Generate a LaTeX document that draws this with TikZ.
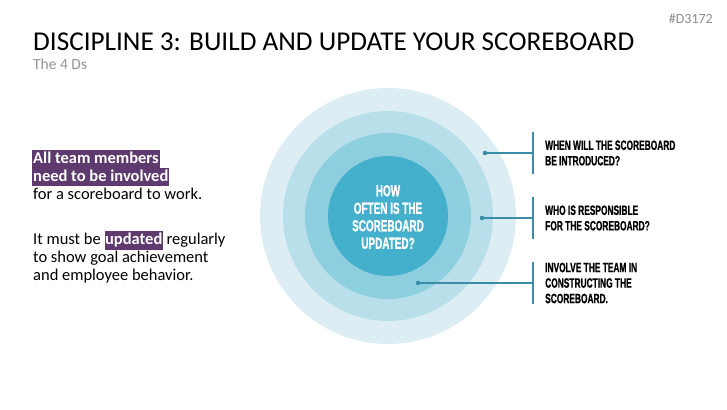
\documentclass[tikz,border=0pt]{standalone}
\usepackage{fontspec}
\setmainfont{Carlito}
\newfontfamily\headfont[FakeStretch=0.62,FakeBold=0.8]{Liberation Sans}
\usepackage{xcolor}
\usepackage{tikz}

\definecolor{ringA}{HTML}{DCEEF4}
\definecolor{ringB}{HTML}{B9E0EA}
\definecolor{ringC}{HTML}{8DCFDF}
\definecolor{ringD}{HTML}{45B0CB}
\definecolor{leadline}{HTML}{3B8DA7}
\definecolor{hlpurple}{HTML}{5E3A6E}
\newcommand{\hlword}[1]{{\setlength{\fboxsep}{0.5pt}\colorbox{hlpurple}{\color{white}\bfseries\strut #1}}}

\begin{document}
\begin{tikzpicture}[x=1pt,y=-1pt,
  body/.style={inner sep=0pt,anchor=base west,font=\fontsize{16.5}{18}\selectfont},
  hl/.style={fill=hlpurple,text=white,inner xsep=1pt,inner ysep=0pt,anchor=base west,font=\fontsize{16.5}{18}\selectfont\bfseries},
  tag/.style={inner sep=0pt,anchor=west,align=left,font=\headfont\bfseries\fontsize{13.5}{15.5}\selectfont},
  lead/.style={leadline,line width=1.3pt}]
\useasboundingbox (0,0) rectangle (727,409);

\node[inner sep=0pt,anchor=base west,font=\fontsize{27.2}{30}\selectfont] (title) at (33,51) {DISCIPLINE 3: BUILD AND UPDATE YOUR SCOREBOARD};
\node[inner sep=0pt,anchor=base west,text=black!42,font=\fontsize{15.5}{17}\selectfont] (sub) at (33,70) {The 4 Ds};
\node[inner sep=0pt,anchor=base east,text=black!45,font=\fontsize{14}{16}\selectfont] (code) at (713,24) {\#D3172};

% left text
\node[hl] (teamA) at (32,163) {\strut All team members\ };
\node[hl] (teamB) at (32,181) {\strut need to be involved};
\node[body] (work) at (33,199) {for a scoreboard to work.};
\node[body] (must) at (33,244) {It must be \hlword{updated} regularly};
\node[body] (goal) at (33,262) {to show goal achievement};
\node[body] (behav) at (33,280) {and employee behavior.};

% rings
\coordinate (hub) at (388,216);
\fill[ringA] (hub) circle (128pt);
\fill[ringB] (hub) circle (105pt);
\fill[ringC] (hub) circle (83pt);
\fill[ringD] (hub) circle (60pt);
\node[align=center,text=white,font=\headfont\bfseries\fontsize{16}{17.5}\selectfont] (ask) at (388,217) {HOW\\OFTEN IS THE\\SCOREBOARD\\UPDATED?};

% leaders
\coordinate (dotA) at (485,153);
\coordinate (dotB) at (482,218);
\coordinate (dotC) at (418,283);
\coordinate (barA) at (533,153);
\coordinate (barB) at (533,218);
\coordinate (barC) at (533,283);
\foreach \d/\b in {dotA/barA,dotB/barB,dotC/barC}{
  \draw[lead] (\d) -- (\b);
  \fill[leadline] (\d) circle (2.3pt);
  \draw[lead] (\b) ++(0,-21) -- ++(0,42);
}

\node[tag] (when) at (545,153) {WHEN WILL THE SCOREBOARD\\BE INTRODUCED?};
\node[tag] (who) at (545,218) {WHO IS RESPONSIBLE\\FOR THE SCOREBOARD?};
\node[tag] (involve) at (545,283) {INVOLVE THE TEAM IN\\CONSTRUCTING THE\\SCOREBOARD.};
\end{tikzpicture}
\end{document}
